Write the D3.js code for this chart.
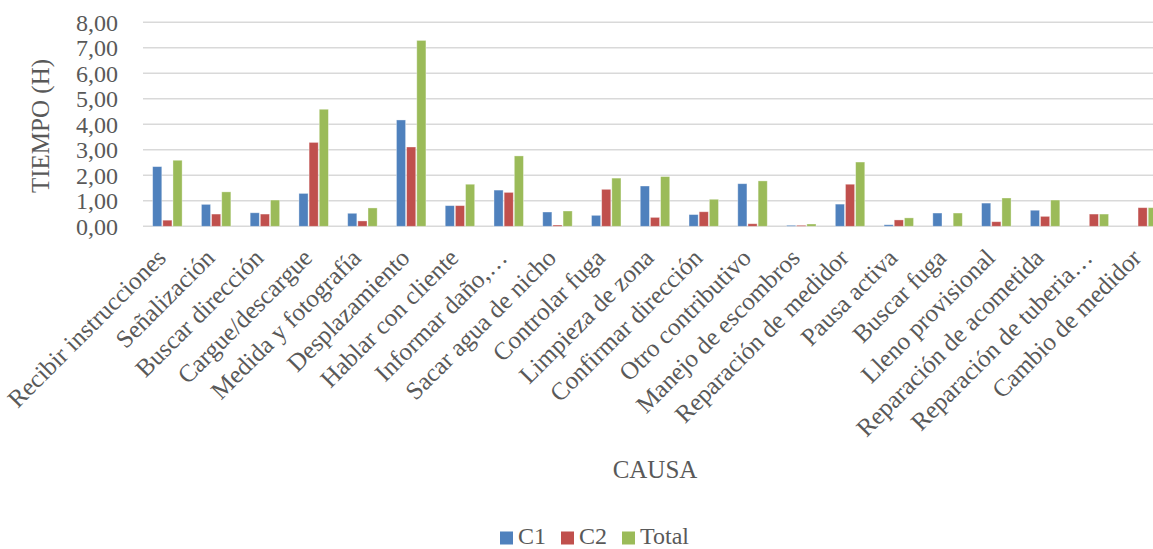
<!DOCTYPE html>
<html><head><meta charset="utf-8">
<script src="https://cdn.jsdelivr.net/npm/d3@7"></script>
<style>html,body{margin:0;padding:0;background:#fff;overflow:hidden}</style>
</head><body>
<svg id="chart" width="1153" height="549"></svg>
<script>
const categories = ["Recibir instrucciones","Señalización","Buscar dirección","Cargue/descargue","Medida y fotografía","Desplazamiento","Hablar con cliente","Informar daño,…","Sacar agua de nicho","Controlar fuga","Limpieza de zona","Confirmar dirección","Otro contributivo","Manejo de escombros","Reparación de medidor","Pausa activa","Buscar fuga","Lleno provisional","Reparación de acometida","Reparación de tuberia…","Cambio de medidor"];
const seriesNames = ["C1","C2","Total"];
const c1 =    [2.34,0.86,0.53,1.29,0.51,4.17,0.81,1.42,0.56,0.43,1.58,0.46,1.67,0.04,0.87,0.06,0.52,0.91,0.63,0,0];
const c2 =    [0.24,0.48,0.48,3.29,0.21,3.11,0.81,1.33,0.05,1.45,0.35,0.57,0.10,0.04,1.65,0.25,0,0.18,0.39,0.48,0.73];
const total = [2.59,1.35,1.03,4.59,0.72,7.29,1.65,2.76,0.60,1.89,1.95,1.06,1.78,0.09,2.52,0.33,0.52,1.11,1.03,0.48,0.73];
const yTicks = [0,1,2,3,4,5,6,7,8];
const colors = ["#4f81bd","#c0504d","#9bbb59"];

const font = "'Liberation Serif','Times New Roman',serif";
const textColor = "#595959";
const svg = d3.select("#chart");
const plotLeft = 143, plotRight = 1167, plotTop = 22.3, plotBottom = 226.3;

const x = d3.scaleBand().domain(categories).range([plotLeft, plotRight]).paddingInner(0.354).paddingOuter(0.177);
const xs = d3.scaleBand().domain(seriesNames).range([0, x.bandwidth()]).padding(0.1);
const y = d3.scaleLinear().domain([0, 8]).range([plotBottom, plotTop]);

const data = categories.map((c, i) => ({cat: c, vals: [c1[i], c2[i], total[i]]}));

// gridlines
svg.append("g").selectAll("line").data(yTicks).join("line")
  .attr("x1", plotLeft).attr("x2", plotRight)
  .attr("y1", d => y(d)).attr("y2", d => y(d))
  .attr("stroke", "#d9d9d9").attr("stroke-width", 1.5);

// y axis labels
const yAxis = d3.axisLeft(y).tickValues(yTicks).tickSize(0).tickPadding(0)
  .tickFormat(d => d3.format(".2f")(d).replace(".", ","));
const yg = svg.append("g").attr("transform", `translate(${118},0)`).call(yAxis);
yg.select(".domain").remove();
yg.selectAll("text").attr("font-family", font).attr("font-size", 24).attr("fill", textColor).attr("dy", "0.34em");

// bars
const groups = svg.append("g").selectAll("g").data(data).join("g")
  .attr("transform", d => `translate(${x(d.cat)},0)`);
groups.selectAll("rect").data(d => d.vals.map((v, k) => ({v, k}))).join("rect")
  .attr("x", d => xs(seriesNames[d.k]))
  .attr("y", d => y(d.v))
  .attr("width", xs.bandwidth())
  .attr("height", d => y(0) - y(d.v))
  .attr("fill", d => colors[d.k])
  .attr("stroke", "rgba(255,255,255,0.45)").attr("stroke-width", 0.8);

// x axis labels
const xAxis = d3.axisBottom(x).tickSize(0).tickPadding(0);
const xg = svg.append("g").attr("transform", `translate(0,${plotBottom})`).call(xAxis);
xg.select(".domain").remove();
xg.selectAll(".tick text")
  .attr("font-family", font).attr("font-size", 25).attr("fill", textColor)
  .attr("text-anchor", "end").attr("dy", null).attr("y", 0)
  .attr("transform", "translate(0,33) rotate(-45)");

// axis titles
svg.append("text").attr("transform", "translate(49,126) rotate(-90)")
  .attr("text-anchor", "middle").attr("font-family", font).attr("font-size", 25)
  .attr("fill", textColor).text("TIEMPO (H)");
svg.append("text").attr("x", 655).attr("y", 478).attr("text-anchor", "middle")
  .attr("font-family", font).attr("font-size", 25).attr("fill", textColor).text("CAUSA");

// legend
const legX = [500, 561, 622];
const lg = svg.append("g").selectAll("g").data(seriesNames).join("g")
  .attr("transform", (d, i) => `translate(${legX[i]},531.5)`);
lg.append("rect").attr("width", 13).attr("height", 13).attr("fill", (d, i) => colors[i]);
lg.append("text").attr("x", 18).attr("y", 12.5).attr("font-family", font).attr("font-size", 24)
  .attr("fill", textColor).text(d => d);
</script>
</body></html>
